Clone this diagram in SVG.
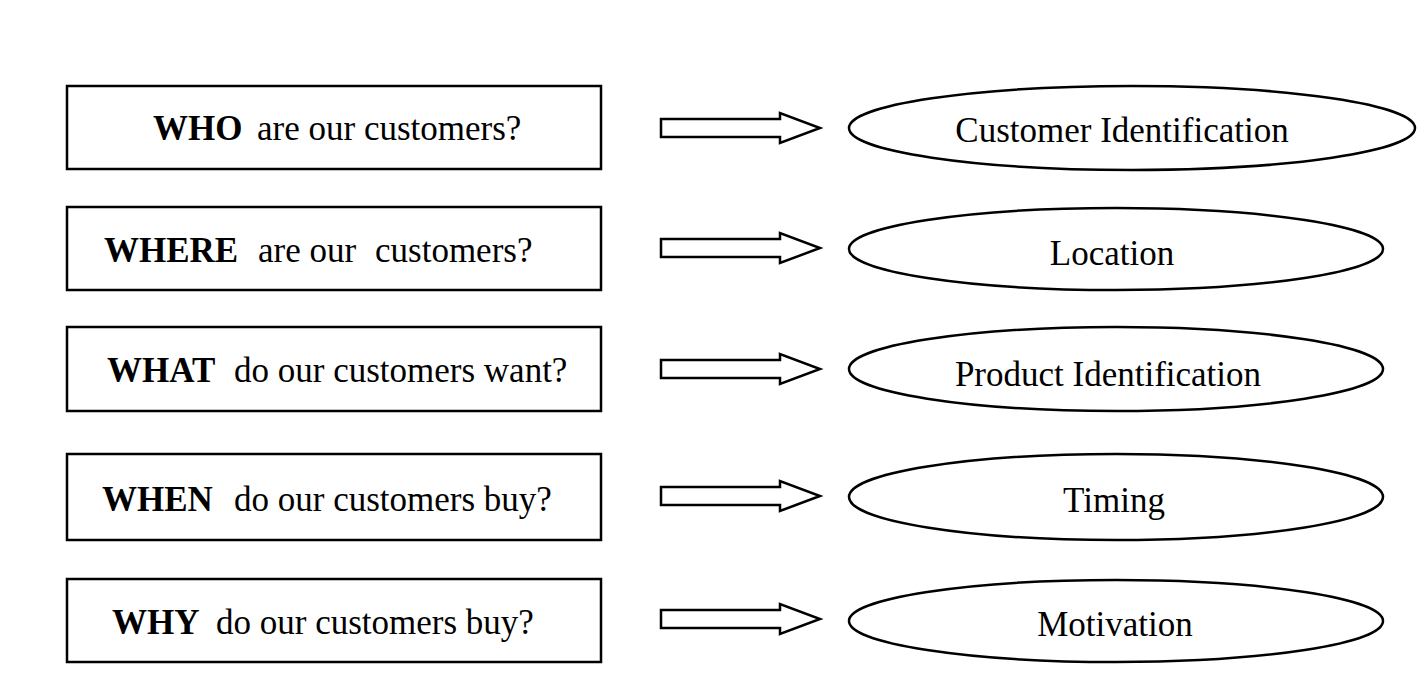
<svg xmlns="http://www.w3.org/2000/svg" width="1427" height="674" viewBox="0 0 1427 674">
<defs>
<style>
.box{fill:#fff;stroke:#000;stroke-width:2.5}
.ell{fill:#fff;stroke:#000;stroke-width:2.5}
.arr{fill:#fff;stroke:#000;stroke-width:2.5;stroke-linejoin:miter}
.t{font-family:"Liberation Serif","Times New Roman",serif;font-size:35px;fill:#000}
.b{font-weight:bold}
.c{text-anchor:middle}
</style>
<path id="arrow" d="M0,-9 L119,-9 L119,-15 L159,0 L119,15 L119,9 L0,9 Z"/>
</defs>
<rect width="1427" height="674" fill="#fff"/>
<g id="q1"><rect class="box" x="67" y="86" width="534" height="83"/><text class="t" y="140"><tspan class="b" x="153">WHO</tspan><tspan x="257">are our customers?</tspan></text></g>
<g id="q2"><rect class="box" x="67" y="207" width="534" height="83"/><text class="t" y="262"><tspan class="b" x="104">WHERE</tspan><tspan x="258">are our</tspan><tspan x="375">customers?</tspan></text></g>
<g id="q3"><rect class="box" x="67" y="327" width="534" height="84"/><text class="t" y="382"><tspan class="b" x="107">WHAT</tspan><tspan x="234">do our customers want?</tspan></text></g>
<g id="q4"><rect class="box" x="67" y="454" width="534" height="86"/><text class="t" y="511"><tspan class="b" x="102">WHEN</tspan><tspan x="234">do our customers buy?</tspan></text></g>
<g id="q5"><rect class="box" x="67" y="579" width="534" height="83"/><text class="t" y="634"><tspan class="b" x="112">WHY</tspan><tspan x="216">do our customers buy?</tspan></text></g>
<g id="connectors">
<use href="#arrow" class="arr" x="661" y="128"/>
<use href="#arrow" class="arr" x="661" y="248"/>
<use href="#arrow" class="arr" x="661" y="369"/>
<use href="#arrow" class="arr" x="661" y="496"/>
<use href="#arrow" class="arr" x="661" y="619"/>
</g>
<g id="a1"><ellipse class="ell" cx="1132" cy="128" rx="283" ry="42"/><text class="t c" x="1122" y="142">Customer Identification</text></g>
<g id="a2"><ellipse class="ell" cx="1116" cy="249" rx="267" ry="41"/><text class="t c" x="1112" y="265">Location</text></g>
<g id="a3"><ellipse class="ell" cx="1116" cy="369" rx="267" ry="42"/><text class="t c" x="1108" y="386">Product Identification</text></g>
<g id="a4"><ellipse class="ell" cx="1116" cy="497" rx="267" ry="43"/><text class="t c" x="1114" y="512">Timing</text></g>
<g id="a5"><ellipse class="ell" cx="1116" cy="621" rx="267" ry="41"/><text class="t c" x="1115" y="636">Motivation</text></g>
</svg>
